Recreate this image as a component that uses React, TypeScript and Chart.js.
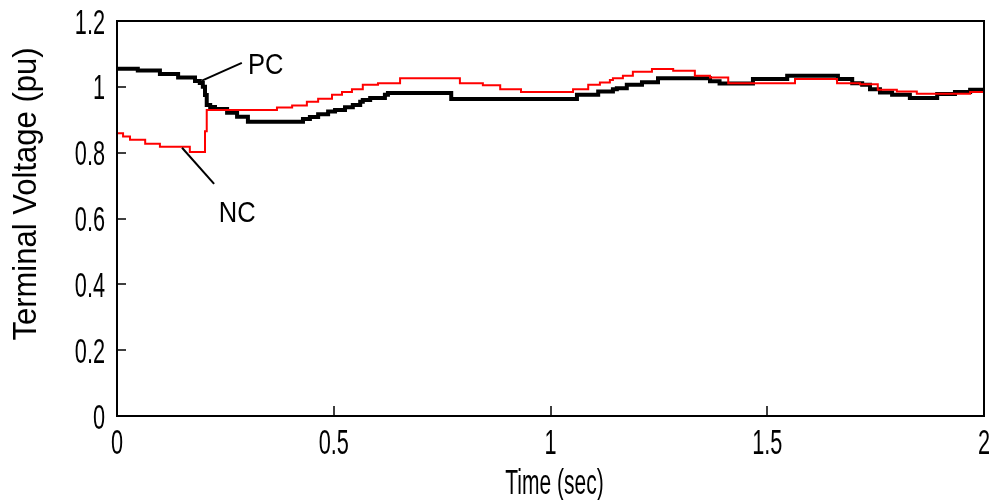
import { useEffect, useRef } from "react";
import { Chart, registerables } from "chart.js";

Chart.register(...registerables);

const xTicks = [0, 0.5, 1, 1.5, 2];
const yTicks = [0, 0.2, 0.4, 0.6, 0.8, 1, 1.2];
const xTickLabels = ["0", "0.5", "1", "1.5", "2"];
const yTickLabels = ["0", "0.2", "0.4", "0.6", "0.8", "1", "1.2"];

const pcTime = [
  0, 0.048, 0.099, 0.141, 0.18, 0.191, 0.198, 0.203, 0.207, 0.215, 0.226, 0.254, 0.277, 0.302,
  0.429, 0.445, 0.464, 0.487, 0.503, 0.526, 0.544, 0.561, 0.567, 0.584, 0.618, 0.625, 0.771,
  1.061, 1.11, 1.144, 1.153, 1.176, 1.211, 1.248, 1.368, 1.39, 1.467, 1.546, 1.663, 1.696,
  1.719, 1.737, 1.76, 1.788, 1.829, 1.892, 1.933, 1.968, 2.0,
];
const pcVoltage = [
  1.055, 1.05, 1.039, 1.028, 1.018, 1.012, 1.0, 0.975, 0.945, 0.939, 0.933, 0.921, 0.909, 0.894,
  0.902, 0.908, 0.917, 0.925, 0.93, 0.938, 0.945, 0.955, 0.96, 0.966, 0.976, 0.981, 0.963,
  0.976, 0.986, 0.993, 0.996, 1.006, 1.014, 1.026, 1.017, 1.01, 1.024, 1.034, 1.024, 1.011,
  1.006, 0.993, 0.983, 0.976, 0.966, 0.978, 0.984, 0.991, 0.991,
];

const ncTime = [
  0, 0.014, 0.03, 0.065, 0.099, 0.168, 0.203, 0.207, 0.369, 0.404, 0.438, 0.464, 0.496, 0.519,
  0.542, 0.567, 0.602, 0.653, 0.791, 0.844, 0.884, 0.932, 1.052, 1.087, 1.114, 1.137, 1.144,
  1.167, 1.19, 1.234, 1.283, 1.333, 1.368, 1.41, 1.564, 1.661, 1.714, 1.755, 1.799, 1.845,
  1.968, 2.0,
];
const ncVoltage = [
  0.859, 0.849, 0.839, 0.827, 0.818, 0.802, 0.865, 0.93, 0.937, 0.943, 0.955, 0.964, 0.976, 0.984,
  0.993, 1.006, 1.011, 1.026, 1.011, 1.005, 0.993, 0.984, 0.993, 1.006, 1.013, 1.021, 1.026,
  1.034, 1.046, 1.054, 1.049, 1.034, 1.028, 1.011, 1.024, 1.011, 1.008, 0.991, 0.986, 0.979,
  0.984, 0.984,
];

// annotation labels with leader lines, in data coordinates [time, voltage]
const annotationLabels = ["PC", "NC"];
const annotationFrom = [
  [0.196, 1.019],
  [0.15, 0.815],
];
const annotationTo = [
  [0.288, 1.073],
  [0.224, 0.705],
];
const annotationText = [
  [0.302, 1.04],
  [0.235, 0.59],
];

const xTitle = "Time (sec)";
const yTitle = "Terminal Voltage (pu)";

const FONT = '"Liberation Sans", Arial, sans-serif';

function drawText(
  ctx: CanvasRenderingContext2D,
  text: string,
  x: number,
  y: number,
  size: number,
  scaleX: number,
  align: CanvasTextAlign,
  rotate = 0
) {
  ctx.save();
  ctx.translate(x, y);
  if (rotate) ctx.rotate(rotate);
  ctx.scale(scaleX, 1);
  ctx.font = `${size}px ${FONT}`;
  ctx.textAlign = align;
  ctx.textBaseline = "alphabetic";
  ctx.fillStyle = "#000";
  ctx.fillText(text, 0, 0);
  ctx.restore();
}

const framePlugin = {
  id: "frameAndNotes",
  afterDraw(chart: any) {
    const { ctx, chartArea: a } = chart;
    const x = chart.scales.x;
    const y = chart.scales.y;
    ctx.save();
    ctx.strokeStyle = "#000";
    ctx.lineWidth = 2;
    ctx.strokeRect(a.left, a.top, a.right - a.left, a.bottom - a.top);
    ctx.lineWidth = 1.5;
    ctx.beginPath();
    yTicks.forEach((v) => {
      const py = Math.round(y.getPixelForValue(v));
      ctx.moveTo(a.left, py);
      ctx.lineTo(a.left + 9, py);
    });
    xTicks.forEach((v) => {
      const px = Math.round(x.getPixelForValue(v));
      ctx.moveTo(px, a.bottom);
      ctx.lineTo(px, a.bottom - 10);
    });
    ctx.stroke();

    // tick labels
    yTicks.forEach((v, i) => {
      drawText(ctx, yTickLabels[i], a.left - 12, y.getPixelForValue(v) + 12.5, 35, 0.62, "right");
    });
    xTicks.forEach((v, i) => {
      drawText(ctx, xTickLabels[i], x.getPixelForValue(v), a.bottom + 38, 35, 0.62, "center");
    });

    // axis titles
    drawText(ctx, xTitle, (a.left + a.right) / 2 + 4, 494, 35, 0.6, "center");
    drawText(ctx, yTitle, 36, 194, 33, 0.94, "center", -Math.PI / 2);

    // leader lines and labels
    ctx.lineWidth = 2;
    annotationLabels.forEach((label, i) => {
      ctx.beginPath();
      ctx.moveTo(x.getPixelForValue(annotationFrom[i][0]), y.getPixelForValue(annotationFrom[i][1]));
      ctx.lineTo(x.getPixelForValue(annotationTo[i][0]), y.getPixelForValue(annotationTo[i][1]));
      ctx.stroke();
      drawText(
        ctx,
        label,
        x.getPixelForValue(annotationText[i][0]),
        y.getPixelForValue(annotationText[i][1]),
        29,
        0.88,
        "left"
      );
    });
    ctx.restore();
  },
};

export default function App() {
  const ref = useRef<HTMLCanvasElement | null>(null);
  useEffect(() => {
    document.body.style.margin = "0";
    const canvas = ref.current!;
    const chart = new Chart(canvas, {
      type: "line",
      data: {
        datasets: [
          {
            label: "NC",
            data: ncTime.map((t, i) => ({ x: t, y: ncVoltage[i] })),
            borderColor: "#ff0000",
            borderWidth: 2,
            pointRadius: 0,
            stepped: true,
            fill: false,
          },
          {
            label: "PC",
            data: pcTime.map((t, i) => ({ x: t, y: pcVoltage[i] })),
            borderColor: "#000000",
            borderWidth: 4,
            pointRadius: 0,
            stepped: true,
            fill: false,
          },
        ],
      },
      options: {
        animation: false,
        responsive: false,
        devicePixelRatio: 1,
        layout: { padding: { top: 21, right: 13, left: 0, bottom: 0 } },
        plugins: { legend: { display: false }, tooltip: { enabled: false } },
        scales: {
          x: {
            type: "linear",
            min: 0,
            max: 2,
            afterBuildTicks: (s: any) => {
              s.ticks = xTicks.map((v) => ({ value: v }));
            },
            afterFit: (s: any) => {
              s.height = 84;
            },
            grid: { display: false, drawTicks: false },
            border: { display: false },
            ticks: { display: false },
          },
          y: {
            type: "linear",
            min: 0,
            max: 1.2,
            afterBuildTicks: (s: any) => {
              s.ticks = yTicks.map((v) => ({ value: v }));
            },
            afterFit: (s: any) => {
              s.width = 117;
            },
            grid: { display: false, drawTicks: false },
            border: { display: false },
            ticks: { display: false },
          },
        },
      },
      plugins: [framePlugin],
    });
    return () => chart.destroy();
  }, []);
  return (
    <div style={{ width: 997, height: 500 }}>
      <canvas ref={ref} width={997} height={500} style={{ display: "block" }} />
    </div>
  );
}
